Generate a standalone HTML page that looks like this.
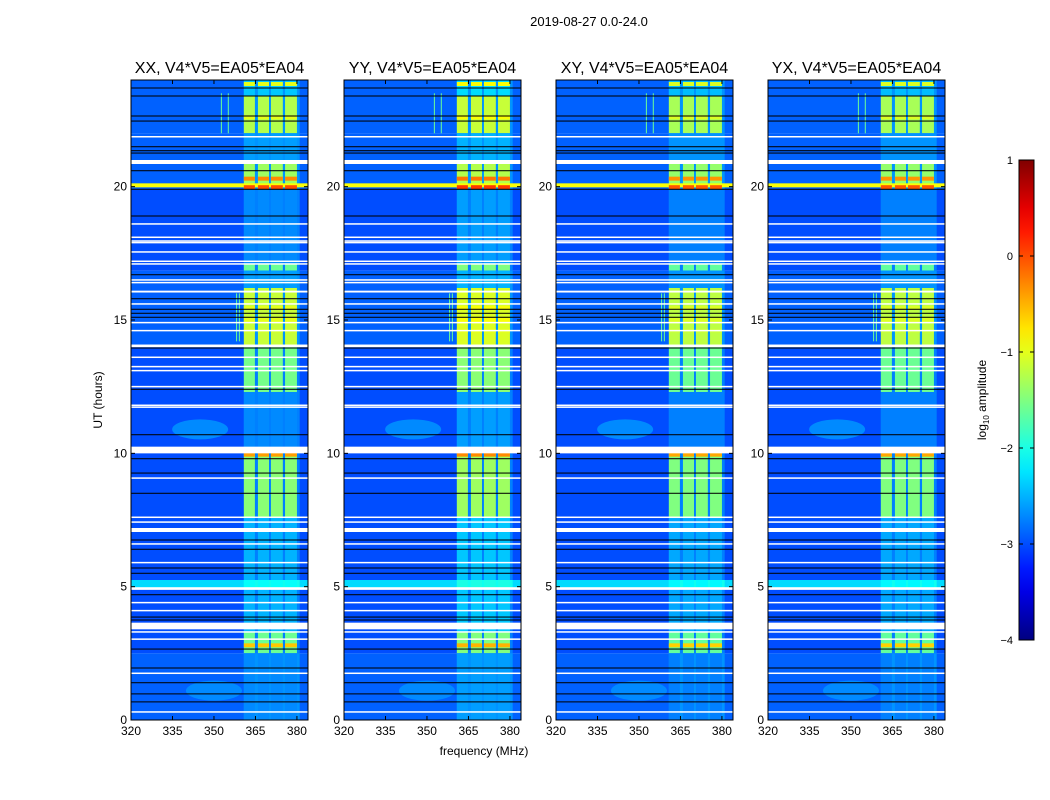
<!DOCTYPE html>
<html><head><meta charset="utf-8"><style>
html,body{margin:0;padding:0;background:#fff;}
svg{display:block;font-family:"Liberation Sans",sans-serif;}
</style></head><body>
<svg id="fig" width="1050" height="800" viewBox="0 0 1050 800">
<text x="589" y="26" font-size="13" text-anchor="middle">2019-08-27 0.0-24.0</text>
<text x="484" y="755" font-size="12" text-anchor="middle">frequency (MHz)</text>
<text x="0" y="0" font-size="12" text-anchor="middle" transform="translate(102,400) rotate(-90)">UT (hours)</text>
<g id="panels"></g>
<g id="cbar"></g>
</svg>
<script>
// ---- data ----
const panelTitles = ["XX, V4*V5=EA05*EA04","YY, V4*V5=EA05*EA04","XY, V4*V5=EA05*EA04","YX, V4*V5=EA05*EA04"];
const panelGain = [0, 0.1, -0.05, -0.05];
const xTicks = [320,335,350,365,380];
const yTicks = [0,5,10,15,20];
const cbTicks = [1,0,-1,-2,-3,-4];
const bandLo = [360.8, 365.9, 370.6, 375.7];
const bandHi = [364.8, 369.9, 374.9, 380.0];
const segStart = [23.4,22.0,21.0,19.9,17.1,16.85,16.2,14.05,12.3,10.0,7.6,5.0,4.9,3.3,2.5,0];
const segEnd   = [24,23.4,22.0,21.0,19.9,17.1,16.85,16.2,14.05,12.3,10.0,7.6,5.25,4.9,3.3,2.5];
const segBg    = [-2.9,-2.9,-2.9,-2.9,-3.0,-3.0,-2.9,-2.9,-3.0,-3.0,-3.0,-3.0,-2.3,-3.0,-3.0,-2.9];
const segBand  = [-2.4,-1.25,-2.6,-1.35,-2.7,-1.6,-2.6,-1.15,-1.55,-2.7,-1.45,-2.5,-2.1,-2.5,-1.6,-2.7];
const blobFreq = [345, 350];
const blobHour = [10.9, 1.1];
const blobLevel = [-2.4, -2.5];
const stripeHour = [23.85, 22.6, 20.3, 19.98, 15.45, 15.0, 14.6, 9.95, 2.8];
const stripeLevel = [-1.0, -1.0, -0.3, 0.0, -1.0, -1.0, -1.1, -0.4, -0.6];
const rowHour = [20.05];
const rowLevel = [-0.9];
const rfiFreq = [352.5, 355, 358, 359];
const rfiStart = [22.0, 22.0, 14.2, 14.2];
const rfiEnd = [23.5, 23.5, 16.0, 16.0];
const flagStart = [21.85,20.85,18.58,18.08,17.94,17.88,17.53,17.18,17.08,16.48,16.38,16.03,15.58,14.88,14.58,13.98,13.58,13.23,13.08,12.48,11.78,11.71,10.0,9.05,7.58,7.4,7.05,6.58,5.88,4.88,4.38,4.08,3.4,3.28,3.01,1.73,0.28];
const flagEnd   = [21.9,21.0,18.63,18.13,17.99,17.93,17.58,17.23,17.13,16.53,16.43,16.1,15.63,14.93,14.63,14.08,13.63,13.28,13.13,12.53,11.83,11.76,10.25,9.1,7.63,7.45,7.2,6.63,5.93,4.98,4.43,4.13,3.65,3.33,3.06,1.78,0.33];
const darkHour = [23.7,23.4,22.65,22.46,21.5,21.35,21.26,20.6,19.9,18.9,16.7,15.8,15.4,15.25,15.1,13.95,12.4,10.7,9.8,9.26,8.5,6.75,6.4,5.7,5.5,4.7,3.86,3.75,2.66,1.95,1.4,0.98,0.68];

// ---- helpers ----
const NS = "http://www.w3.org/2000/svg";
function mk(tag, attrs, parent){const e=document.createElementNS(NS,tag);for(const k in attrs)e.setAttribute(k,attrs[k]);parent.appendChild(e);return e;}
function jet(v){let t=(v+4)/5;t=Math.max(0,Math.min(1,t));
 const c=x=>Math.round(255*Math.max(0,Math.min(1,x)));
 return `rgb(${c(1.5-Math.abs(4*t-3))},${c(1.5-Math.abs(4*t-2))},${c(1.5-Math.abs(4*t-1))})`;}
const panelX = [131, 344, 556, 768];
const PW = 177, PT = 80, PB = 720;
const fMin = 320, fMax = 384;
const yScale = h => PB - (h/24)*(PB-PT);

const root = document.getElementById('panels');
const defs = mk('defs', {}, root);
panelX.forEach((x0, p) => {
  const xs = f => x0 + (f - fMin)/(fMax - fMin)*PW;
  const cp = mk('clipPath', {id:'clip'+p}, defs);
  mk('rect', {x:x0, y:PT, width:PW, height:PB-PT}, cp);
  const g = mk('g', {'clip-path':`url(#clip${p})`}, root);
  
  
  const gain = panelGain[p];
  for (let i=0;i<segStart.length;i++){
    const y1 = yScale(segEnd[i]), y2 = yScale(segStart[i]);
    const r = mk('rect',{x:x0,y:y1,width:PW,height:y2-y1,fill:jet(segBg[i])},g);
    
    
    const env = mk('rect',{x:xs(bandLo[0]),y:y1,width:xs(bandHi[3]+1)-xs(bandLo[0]),height:y2-y1,fill:jet(segBg[i]+0.25)},g);
    
    
    for (let b=0;b<bandLo.length;b++){
      const c = mk('rect',{x:xs(bandLo[b]),y:y1,width:xs(bandHi[b])-xs(bandLo[b]),height:y2-y1,fill:jet(segBand[i]+gain)},g);
      
      
    }
  }
  for (let i=0;i<blobFreq.length;i++){
    const e = mk('ellipse',{cx:xs(blobFreq[i]),cy:yScale(blobHour[i]),rx:28,ry:10,fill:jet(blobLevel[i]),opacity:0.5},g);
    
    
  }
  for (let i=0;i<rowHour.length;i++){
    const y=yScale(rowHour[i]);
    const r = mk('rect',{x:x0,y:y-2,width:PW,height:4,fill:jet(rowLevel[i])},g);
    
    
  }
  for (let i=0;i<stripeHour.length;i++){
    const y=yScale(stripeHour[i]);
    for (let b=0;b<bandLo.length;b++){
      const r = mk('rect',{x:xs(bandLo[b]),y:y-2,width:xs(bandHi[b])-xs(bandLo[b]),height:4,fill:jet(stripeLevel[i]+gain)},g);
      
      
    }
  }
  for (let i=0;i<rfiFreq.length;i++){
    const r = mk('rect',{x:xs(rfiFreq[i]),y:yScale(rfiEnd[i]),width:1,height:yScale(rfiStart[i])-yScale(rfiEnd[i]),fill:jet(-1.6)},g);
    
    
  }
  for (let i=0;i<darkHour.length;i++){
    const r = mk('rect',{x:x0,y:yScale(darkHour[i])-0.6,width:PW,height:1.2,fill:'#000',opacity:0.85},g);
    
    
  }
  for (let i=0;i<flagStart.length;i++){
    const y1=yScale(flagEnd[i]), y2=yScale(flagStart[i]);
    const r = mk('rect',{x:x0,y:y1,width:PW,height:Math.max(1.5,y2-y1),fill:'#fff'},g);
    
    
  }
  const frame = mk('rect',{x:x0,y:PT,width:PW,height:PB-PT,fill:'none',stroke:'#000','stroke-width':1},root);
  
  
  const t = mk('text',{x:x0+PW/2,y:73,'font-size':16,'text-anchor':'middle'},root);
  t.textContent = panelTitles[p];
  
  
  xTicks.forEach(f=>{
    const x=xs(f);
    mk('line',{x1:x,x2:x,y1:PB,y2:PB-4,stroke:'#000'},root);
    mk('line',{x1:x,x2:x,y1:PT,y2:PT+4,stroke:'#000'},root);
    const l=mk('text',{x:x,y:PB+15,'font-size':12,'text-anchor':'middle'},root);
    l.textContent=f;
    
    
  });
  yTicks.forEach(h=>{
    const y=yScale(h);
    mk('line',{x1:x0,x2:x0+4,y1:y,y2:y,stroke:'#000'},root);
    mk('line',{x1:x0+PW,x2:x0+PW-4,y1:y,y2:y,stroke:'#000'},root);
    const l=mk('text',{x:x0-4,y:y+4,'font-size':12,'text-anchor':'end'},root);
    l.textContent=h;
    
    
  });
});

// ---- colorbar ----
const cb = document.getElementById('cbar');
const cbX=1019, cbW=15, cbT=160, cbB=640;
const cbY = v => cbB - (v+4)/5*(cbB-cbT);
const grad = mk('linearGradient',{id:'jetg',x1:0,y1:1,x2:0,y2:0},defs);
for(let i=0;i<=20;i++){mk('stop',{offset:i/20,'stop-color':jet(-4+5*i/20)},grad);}
const bar = mk('rect',{x:cbX,y:cbT,width:cbW,height:cbB-cbT,fill:'url(#jetg)',stroke:'#000'},cb);


cbTicks.forEach(v=>{
  const y=cbY(v);
  mk('line',{x1:cbX,x2:cbX+4,y1:y,y2:y,stroke:'#000'},cb);
  mk('line',{x1:cbX+cbW,x2:cbX+cbW-4,y1:y,y2:y,stroke:'#000'},cb);
  const l=mk('text',{x:1013,y:y+4,'font-size':11,'text-anchor':'end'},cb);
  l.textContent = v<0 ? '\u2212'+Math.abs(v) : v;
  
  
});
const cl = mk('text',{x:0,y:0,'font-size':12,'text-anchor':'middle',transform:'translate(986,400) rotate(-90)'},cb);
cl.innerHTML = 'log<tspan font-size="8" dy="3">10</tspan><tspan dy="-3"> amplitude</tspan>';


</script>
</body></html>
